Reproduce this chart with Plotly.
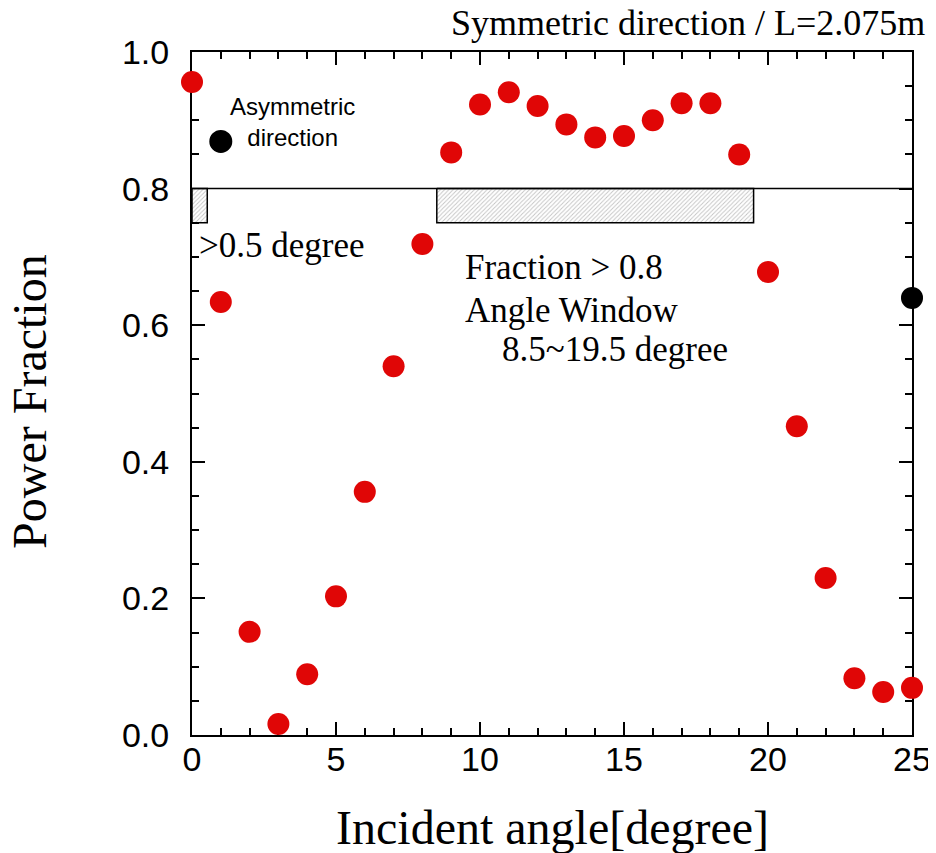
import plotly.graph_objects as go

# ---- data ----
angles = list(range(0, 26))
sym_fraction = [0.956, 0.634, 0.151, 0.016, 0.089, 0.203, 0.356, 0.540, 0.719,
                0.853, 0.923, 0.941, 0.921, 0.894, 0.875, 0.877, 0.900, 0.925,
                0.925, 0.850, 0.678, 0.452, 0.230, 0.083, 0.063, 0.069]
asym_angle = [25]
asym_fraction = [0.640]
threshold = 0.8
band_bottom = 0.75
windows = [(0.0, 0.53), (8.5, 19.5)]
x_ticks = [0, 5, 10, 15, 20, 25]
y_ticks = [0.0, 0.2, 0.4, 0.6, 0.8, 1.0]

SERIF = "Liberation Serif, Times New Roman, serif"
SANS = "Liberation Sans, Arial, sans-serif"
RED = "#e00606"

fig = go.Figure()

# hatched angle-window bands
for (x0, x1) in windows:
    fig.add_trace(go.Scatter(
        x=[x0, x1, x1, x0, x0],
        y=[threshold, threshold, band_bottom, band_bottom, threshold],
        mode="lines", fill="toself",
        fillcolor="rgba(0,0,0,0)",
        fillpattern=dict(shape="/", size=3, solidity=0.3, fgcolor="#888888", bgcolor="white"),
        line=dict(color="black", width=1.5),
        hoverinfo="skip", showlegend=False))

fig.add_trace(go.Scatter(
    x=angles, y=sym_fraction, mode="markers",
    marker=dict(color=RED, size=22, line=dict(width=0)),
    cliponaxis=False, showlegend=False))

fig.add_trace(go.Scatter(
    x=asym_angle, y=asym_fraction, mode="markers",
    marker=dict(color="black", size=22, line=dict(width=0)),
    cliponaxis=False, showlegend=False))

# threshold line
fig.add_shape(type="line", xref="paper", yref="y", x0=0, x1=1, y0=threshold, y1=threshold,
              line=dict(color="black", width=1.5))

# legend symbol for asymmetric direction
fig.add_shape(type="circle", xref="x", yref="y", xsizemode="pixel", ysizemode="pixel",
              xanchor=1, yanchor=0.869, x0=-11.5, x1=11.5, y0=-11.5, y1=11.5,
              fillcolor="black", line=dict(width=0))
fig.add_annotation(text="Asymmetric<br>direction", xref="x", yref="y", x=3.5, y=0.897,
                   showarrow=False, align="center", xanchor="center", yanchor="middle",
                   font=dict(family=SANS, size=24, color="black"))

fig.add_annotation(text="&gt;0.5 degree", xref="x", yref="y", x=0.19, y=0.717,
                   showarrow=False, xanchor="left", yanchor="middle",
                   font=dict(family=SERIF, size=35, color="black"))
fig.add_annotation(text="Fraction &gt; 0.8", xref="x", yref="y", x=9.42, y=0.684,
                   showarrow=False, xanchor="left", yanchor="middle",
                   font=dict(family=SERIF, size=35, color="black"))
fig.add_annotation(text="Angle Window", xref="x", yref="y", x=9.42, y=0.622,
                   showarrow=False, xanchor="left", yanchor="middle",
                   font=dict(family=SERIF, size=35, color="black"))
fig.add_annotation(text="8.5~19.5 degree", xref="x", yref="y", x=10.7, y=0.564,
                   showarrow=False, xanchor="left", yanchor="middle",
                   font=dict(family=SERIF, size=35, color="black"))

fig.add_annotation(text="Symmetric direction / L=2.075m", xref="paper", yref="paper",
                   x=1.021, y=1.042, showarrow=False, xanchor="right", yanchor="middle",
                   font=dict(family=SERIF, size=36, color="black"))

# axis titles
fig.add_annotation(text="Incident angle[degree]", xref="paper", yref="paper",
                   x=0.5, y=-0.136, showarrow=False, xanchor="center", yanchor="middle",
                   font=dict(family=SERIF, size=48, color="black"))
fig.add_annotation(text="Power Fraction", xref="paper", yref="paper",
                   x=-0.2265, y=0.489, showarrow=False, xanchor="center", yanchor="middle",
                   textangle=-90, font=dict(family=SERIF, size=48, color="black"))

axis_common = dict(showline=True, linecolor="black", linewidth=2, mirror="ticks",
                   ticks="inside", tickcolor="black", tickwidth=2, ticklen=13,
                   showgrid=False, zeroline=False, layer="below traces", automargin=False)

fig.update_xaxes(range=[0, 25], tickvals=x_ticks, ticktext=[str(v) for v in x_ticks],
                 minor=dict(dtick=1, ticks="inside", ticklen=7, tickwidth=2, tickcolor="black"),
                 tickfont=dict(family=SANS, size=34, color="black"),
                 ticklabelstandoff=-7,
                 **axis_common)
fig.update_yaxes(range=[0, 1.0], tickvals=y_ticks, ticktext=[f"{v:.1f}" for v in y_ticks],
                 minor=dict(dtick=0.05, ticks="inside", ticklen=7, tickwidth=2, tickcolor="black"),
                 tickfont=dict(family=SANS, size=34, color="black"),
                 ticklabelstandoff=14,
                 **axis_common)

# page body has an 8px default margin, so the figure is sized to fit inside the window
fig.update_layout(width=928, height=845, margin=dict(l=184, r=24, t=44, b=118),
                  plot_bgcolor="white", paper_bgcolor="white", showlegend=False)

fig.write_html("out.html")
